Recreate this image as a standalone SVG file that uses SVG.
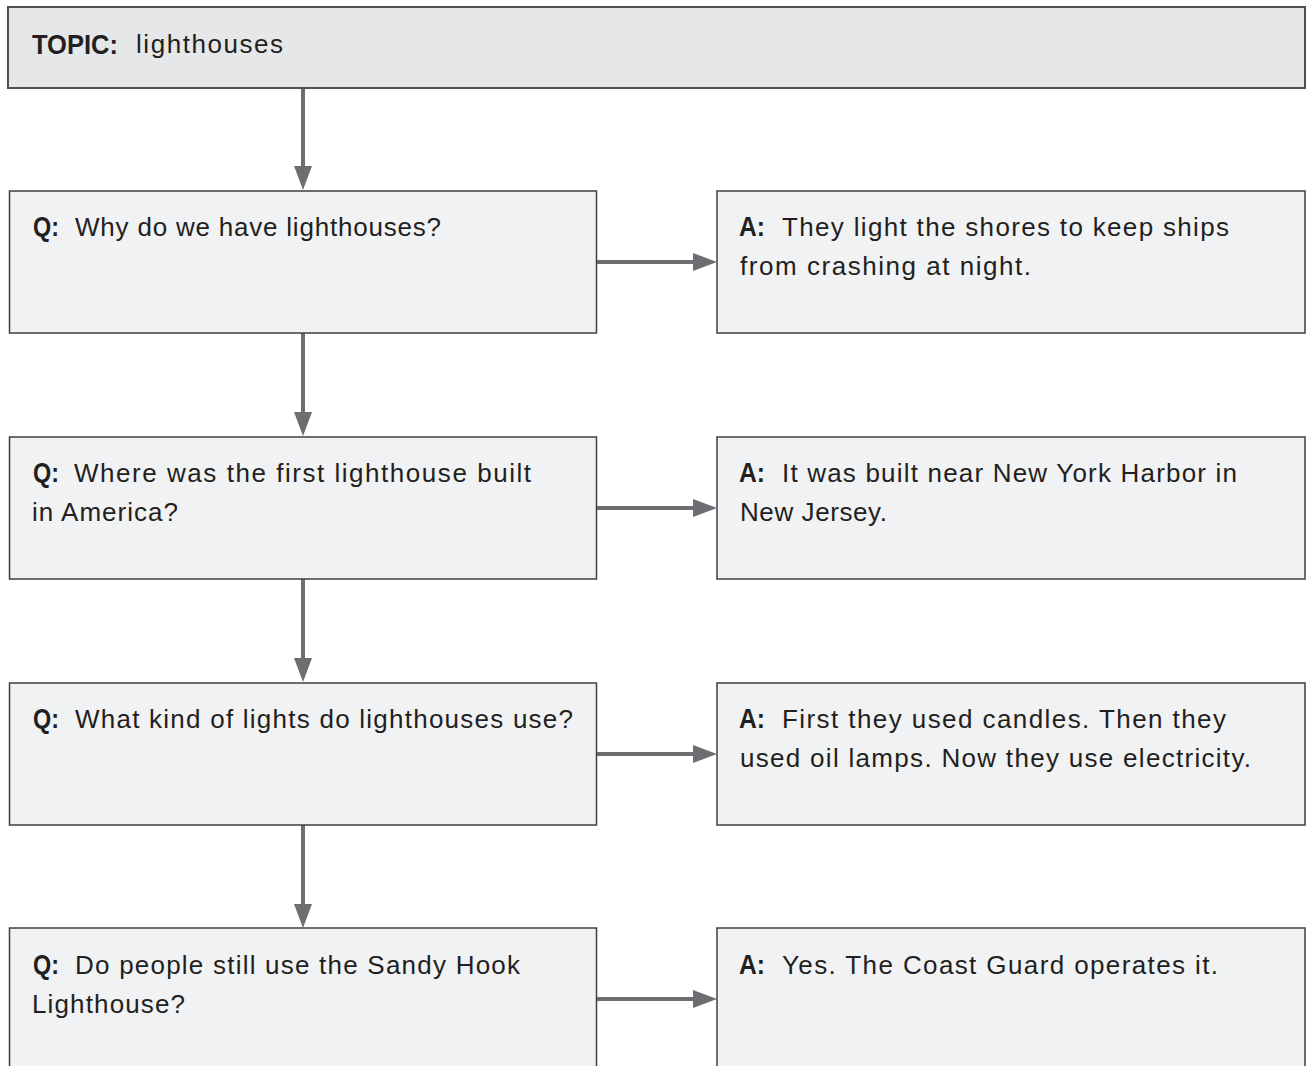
<svg xmlns="http://www.w3.org/2000/svg" width="1309" height="1066" viewBox="0 0 1309 1066">
<style>
.topic{fill:#e6e7e9;stroke:#505052;stroke-width:2}
.box{fill:#f1f2f3;stroke:#3f3f41;stroke-width:1.5}
.lbl{font-family:"Liberation Sans",Arial,sans-serif;font-weight:bold;font-size:28px;fill:#231f20}
.txt{font-family:"Liberation Sans",Arial,sans-serif;font-size:26px;fill:#231f20}
.conn{stroke:#6d6e71;stroke-width:4;fill:none}
</style>
<defs>
<marker id="ah" markerUnits="userSpaceOnUse" markerWidth="24" markerHeight="18" refX="0" refY="9" orient="auto" viewBox="0 0 24 18">
<path d="M0,0 L24,9 L0,18 Z" fill="#6d6e71"/>
</marker>
</defs>
<rect width="1309" height="1066" fill="#ffffff"/>
<g id="connectors">
<line class="conn" x1="303" y1="88" x2="303" y2="166" marker-end="url(#ah)"/>
<line class="conn" x1="303" y1="333" x2="303" y2="412" marker-end="url(#ah)"/>
<line class="conn" x1="303" y1="579" x2="303" y2="658" marker-end="url(#ah)"/>
<line class="conn" x1="303" y1="825" x2="303" y2="904" marker-end="url(#ah)"/>
<line class="conn" x1="597" y1="262" x2="693" y2="262" marker-end="url(#ah)"/>
<line class="conn" x1="597" y1="508" x2="693" y2="508" marker-end="url(#ah)"/>
<line class="conn" x1="597" y1="754" x2="693" y2="754" marker-end="url(#ah)"/>
<line class="conn" x1="597" y1="999" x2="693" y2="999" marker-end="url(#ah)"/>
</g>
<g id="topic">
<rect class="topic" x="8" y="7" width="1297" height="81"/>
<text class="lbl" x="32" y="54" textLength="86" lengthAdjust="spacingAndGlyphs">TOPIC:</text>
<text class="txt" x="136" y="53" textLength="147" lengthAdjust="spacing">lighthouses</text>
</g>
<g id="q1">
<rect class="box" x="9.5" y="191" width="587" height="142"/>
<text class="lbl" x="33" y="236" textLength="26" lengthAdjust="spacingAndGlyphs">Q:</text>
<text class="txt" x="75" y="236" textLength="366" lengthAdjust="spacing">Why do we have lighthouses?</text>
</g>
<g id="a1">
<rect class="box" x="717" y="191" width="588" height="142"/>
<text class="lbl" x="739" y="236" textLength="26" lengthAdjust="spacingAndGlyphs">A:</text>
<text class="txt" x="782" y="236" textLength="447" lengthAdjust="spacing">They light the shores to keep ships</text>
<text class="txt" x="740" y="275" textLength="291" lengthAdjust="spacing">from crashing at night.</text>
</g>
<g id="q2">
<rect class="box" x="9.5" y="437" width="587" height="142"/>
<text class="lbl" x="33" y="482" textLength="26" lengthAdjust="spacingAndGlyphs">Q:</text>
<text class="txt" x="74" y="482" textLength="457" lengthAdjust="spacing">Where was the first lighthouse built</text>
<text class="txt" x="32" y="521" textLength="146" lengthAdjust="spacing">in America?</text>
</g>
<g id="a2">
<rect class="box" x="717" y="437" width="588" height="142"/>
<text class="lbl" x="739" y="482" textLength="26" lengthAdjust="spacingAndGlyphs">A:</text>
<text class="txt" x="782" y="482" textLength="455" lengthAdjust="spacing">It was built near New York Harbor in</text>
<text class="txt" x="740" y="521" textLength="147" lengthAdjust="spacing">New Jersey.</text>
</g>
<g id="q3">
<rect class="box" x="9.5" y="683" width="587" height="142"/>
<text class="lbl" x="33" y="728" textLength="26" lengthAdjust="spacingAndGlyphs">Q:</text>
<text class="txt" x="75" y="728" textLength="498" lengthAdjust="spacing">What kind of lights do lighthouses use?</text>
</g>
<g id="a3">
<rect class="box" x="717" y="683" width="588" height="142"/>
<text class="lbl" x="739" y="728" textLength="26" lengthAdjust="spacingAndGlyphs">A:</text>
<text class="txt" x="782" y="728" textLength="444" lengthAdjust="spacing">First they used candles. Then they</text>
<text class="txt" x="740" y="767" textLength="511" lengthAdjust="spacing">used oil lamps. Now they use electricity.</text>
</g>
<g id="q4">
<rect class="box" x="9.5" y="928" width="587" height="150"/>
<text class="lbl" x="33" y="974" textLength="26" lengthAdjust="spacingAndGlyphs">Q:</text>
<text class="txt" x="75" y="974" textLength="445" lengthAdjust="spacing">Do people still use the Sandy Hook</text>
<text class="txt" x="32" y="1013" textLength="153" lengthAdjust="spacing">Lighthouse?</text>
</g>
<g id="a4">
<rect class="box" x="717" y="928" width="588" height="150"/>
<text class="lbl" x="739" y="974" textLength="26" lengthAdjust="spacingAndGlyphs">A:</text>
<text class="txt" x="782" y="974" textLength="436" lengthAdjust="spacing">Yes. The Coast Guard operates it.</text>
</g>
</svg>
